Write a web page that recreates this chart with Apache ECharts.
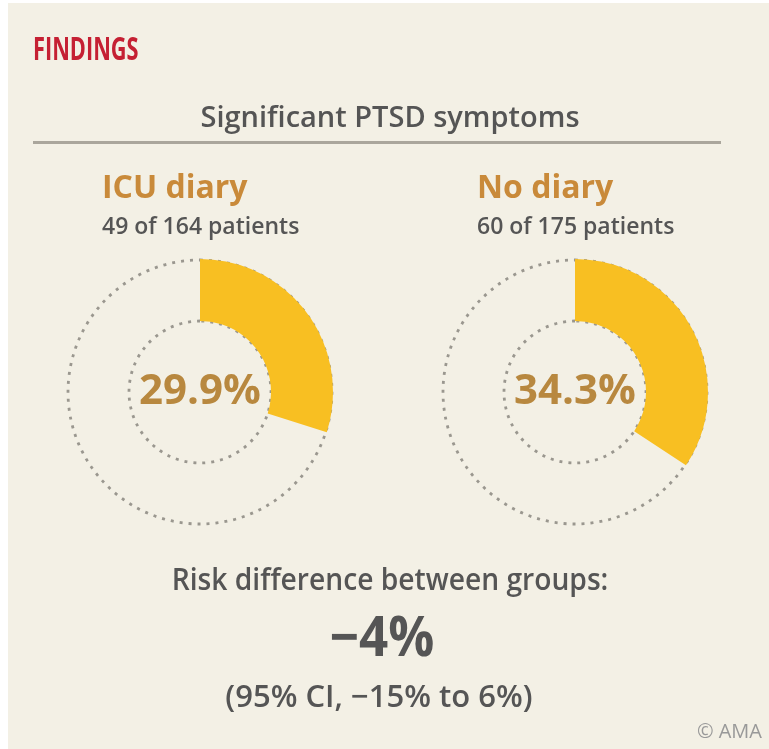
<!DOCTYPE html>
<html>
<head>
<meta charset="utf-8">
<script src="https://cdn.jsdelivr.net/npm/echarts@6/dist/echarts.min.js"></script>
<style>
  html, body { margin: 0; padding: 0; background: #fff; }
  #chart { width: 769px; height: 749px; }
</style>
</head>
<body>
<div id="chart"></div>
<script>
// data
var groups = ['ICU diary', 'No diary']
var cases = [49, 60]
var totals = [164, 175]
var percents = [29.9, 34.3]
var riskDiff = '\u22124%'
var ciText = '(95% CI, \u221215% to 6%)'

var FONT = '"Open Sans", "Noto Sans", sans-serif'
var centersX = [200, 575]
var centerY = 392

var chart = echarts.init(document.getElementById('chart'))

// text helper: anchor at (x, y), optional horizontal squeeze
function txt(str, x, y, font, color, align, sx) {
  return {
    type: 'text', x: x, y: y, scaleX: sx || 1,
    style: { text: str, fill: color, font: font, align: align || 'left', verticalAlign: 'middle' }
  }
}

var series = []
var graphics = [
  { type: 'rect', z: -10, silent: true, shape: { x: 8, y: 3, width: 761, height: 746 }, style: { fill: '#f3f0e5' } },
  txt('FINDINGS', 33, 51, 'bold 32px ' + FONT, '#c52033', 'left', 0.68),
  txt('Significant PTSD symptoms', 390, 119, '600 29px ' + FONT, '#555', 'center'),
  { type: 'rect', shape: { x: 33, y: 141, width: 688, height: 3 }, style: { fill: '#aaa69c' } },
  txt('Risk difference between groups:', 390, 581, '600 30px ' + FONT, '#555', 'center', 0.94),
  txt(riskDiff, 382, 640, 'bold 55px ' + FONT, '#555', 'center', 0.93),
  txt(ciText, 379, 698, '600 31px ' + FONT, '#555', 'center', 1.0),
  txt('\u00a9 AMA', 762, 732, '20px ' + FONT, '#999', 'right')
]

groups.forEach(function (g, i) {
  var cx = centersX[i]
  graphics.push(txt(g, cx - 98, 189, 'bold 32px ' + FONT, '#c98a3a', 'left'))
  graphics.push(txt(cases[i] + ' of ' + totals[i] + ' patients', cx - 98, 227, '600 23px ' + FONT, '#555', 'left', 1.0))

  // dashed guide rings
  series.push({
    type: 'pie',
    silent: true,
    z: 1,
    center: [cx, centerY],
    radius: [71, 132],
    startAngle: 90,
    label: { show: false },
    labelLine: { show: false },
    itemStyle: { color: 'rgba(0,0,0,0)', borderColor: '#9a978f', borderWidth: 2.8, borderType: [3, 6] },
    data: [{ value: 100 }]
  })
  // share with symptoms
  series.push({
    type: 'pie',
    silent: true,
    z: 2,
    center: [cx, centerY],
    radius: [71, 133],
    startAngle: 90,
    clockwise: true,
    label: {
      show: true,
      position: 'center',
      formatter: function () { return percents[i].toFixed(1) + '%' },
      color: '#b8883f',
      fontFamily: FONT,
      fontWeight: 'bold',
      fontSize: 42
    },
    labelLine: { show: false },
    data: [
      { value: percents[i], itemStyle: { color: '#f8bf22' } },
      { value: 100 - percents[i], itemStyle: { color: 'rgba(0,0,0,0)' }, label: { show: false } }
    ]
  })
})

chart.setOption({
  backgroundColor: '#fff',
  animation: false,
  graphic: graphics,
  series: series
})
</script>
</body>
</html>
